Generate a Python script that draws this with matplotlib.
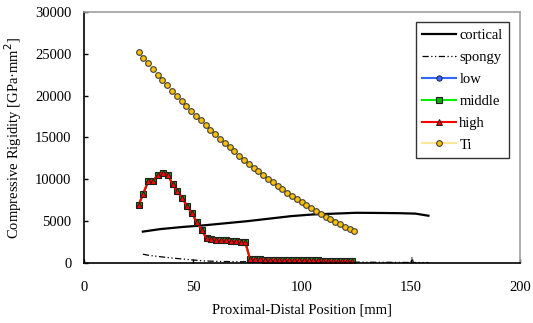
import numpy as np
import matplotlib
matplotlib.use('Agg')
import matplotlib.pyplot as plt

plt.rcParams['font.family'] = ['Liberation Serif', 'DejaVu Serif']
plt.rcParams['font.size'] = 10.5

# sample positions [mm]
pos = [25.0, 27.2, 29.5, 31.7, 33.9, 36.1, 38.4, 40.6, 42.8, 45.0, 47.3, 49.5,
       51.7, 54.0, 56.2, 58.4, 60.6, 62.9, 65.1, 67.3, 69.5, 71.8, 74.0, 76.2,
       78.5, 80.7, 82.9, 85.1, 87.4, 89.6, 91.8, 94.0, 96.3, 98.5, 100.7, 103.0,
       105.2, 107.4, 109.6, 111.9, 114.1, 116.3, 118.5, 120.8, 123.0]

# low / middle / high are practically the same
stent = [6900, 8300, 9800, 9850, 10500, 10800, 10550, 9450, 8600, 7800, 6800, 5950,
         4900, 3950, 2950, 2880, 2800, 2750, 2700, 2650, 2600, 2550, 2480, 450,
         430, 420, 410, 400, 390, 380, 370, 360, 350, 340, 330, 320,
         310, 300, 290, 280, 270, 260, 250, 245, 240]
low = stent
middle = stent
high = stent

ti_x = [25.0, 27.2, 29.4, 31.6, 33.8, 36.0, 38.2, 40.4, 42.6, 44.8, 47.0, 49.2,
        51.4, 53.6, 55.8, 58.0, 60.2, 62.4, 64.6, 66.8, 69.0, 71.2, 73.4, 75.6,
        77.8, 80.0, 82.2, 84.4, 86.6, 88.8, 91.0, 93.2, 95.4, 97.6, 99.8, 102.0,
        104.2, 106.4, 108.6, 110.8, 113.0, 115.2, 117.4, 119.6, 121.8, 124.0]
ti = [25200, 24517, 23843, 23178, 22523, 21877, 21241, 20614, 19997, 19389, 18791, 18202,
      17622, 17052, 16492, 15941, 15399, 14866, 14344, 13830, 13326, 12832, 12347, 11871,
      11405, 10948, 10501, 10063, 9635, 9216, 8807, 8407, 8016, 7635, 7263, 6901,
      6548, 6205, 5871, 5547, 5232, 4926, 4630, 4344, 4066, 3799]

cort_x = [27, 35, 45, 55, 65, 75, 85, 95, 105, 115, 125, 135, 145, 152, 158]
cortical = [3750, 4050, 4300, 4500, 4750, 5000, 5300, 5600, 5800, 5900, 6000, 5980, 5950, 5900, 5650]

spon_x = [27, 30, 35, 40, 45, 50, 55, 60, 70, 80, 100, 120, 140, 150, 150.5, 151, 158]
spongy = [1050, 900, 750, 600, 480, 360, 250, 200, 150, 150, 120, 100, 80, 60, 700, 60, 50]

fig = plt.figure(figsize=(5.33, 3.23), dpi=100)
ax = fig.add_axes([0.1576, 0.1858, 0.8180, 0.7771])

ax.plot(cort_x, cortical, color='black', lw=1.6, label='cortical')
ax.plot(spon_x, spongy, color='black', lw=0.9, dashes=[5, 2, 1, 2, 1, 2], label='spongy')
ax.plot(pos, low, color='#3366ff', lw=1.5, marker='o', ms=3.8, mfc='#3366ff', mec='#202040',
        mew=0.7, label='low')
ax.plot(pos, middle, color='#00ee00', lw=1.5, marker='s', ms=4.2, mfc='#00b000', mec='#202020',
        mew=0.8, label='middle')
ax.plot(pos, high, color='#ff0000', lw=1.5, marker='^', ms=3.8, mfc='#ff0000', mec='#202020',
        mew=0.7, label='high')
ax.plot(ti_x, ti, color='#ffe699', lw=1.5, marker='o', ms=4.1, mfc='#ffc000', mec='#404040',
        mew=0.8, label='Ti')

ax.set_xlim(0, 200)
ax.set_ylim(0, 30000)
ax.set_xticks([0, 50, 100, 150, 200])
ax.set_yticks(range(0, 30001, 5000))
ax.tick_params(direction='in', length=3, width=1)
ax.tick_params(axis='x', pad=13)
ax.tick_params(axis='y', pad=9)

for s in ['top', 'right']:
    ax.spines[s].set_color('#a0a0a0')
    ax.spines[s].set_linewidth(1.2)
for s in ['left', 'bottom']:
    ax.spines[s].set_color('black')
    ax.spines[s].set_linewidth(1.2)

ax.set_xlabel('Proximal-Distal Position [mm]', labelpad=7)
ax.set_ylabel('Compressive Rigidity [GPa·mm$^2$]', labelpad=8)

leg = ax.legend(loc='upper right', bbox_to_anchor=(0.975, 0.96), frameon=True, fancybox=False,
                handlelength=2.3, handletextpad=0.25, labelspacing=0.6, borderpad=0.45,
                borderaxespad=0)
leg.get_frame().set_edgecolor('black')
leg.get_frame().set_linewidth(1.0)

fig.savefig('out.png', dpi=100)
